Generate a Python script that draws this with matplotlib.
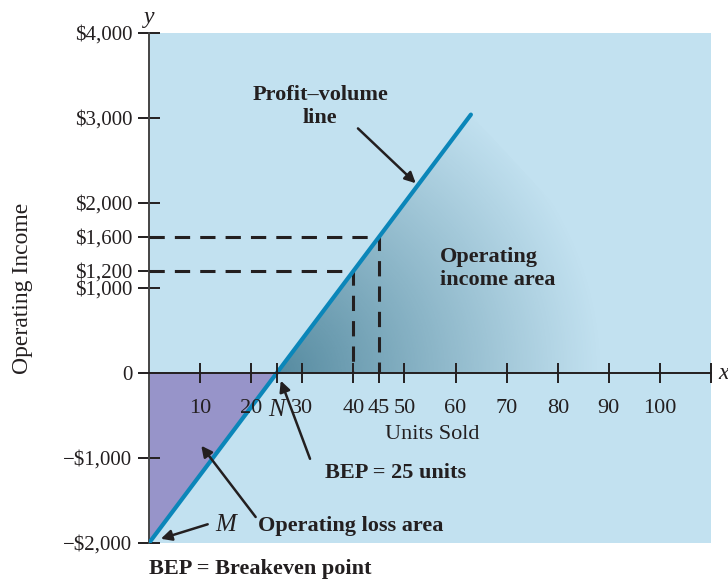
import numpy as np
import matplotlib
matplotlib.use("Agg")
import matplotlib.pyplot as plt
from matplotlib.patches import Polygon

# data
pv_units = [0, 63]              # profit-volume line, x
pv_income = [-2000, 3040]       # profit-volume line, y
bep_units = 25
marked_units = [40, 45]
marked_income = [1200, 1600]
fade_units = 110                # right corner of the shaded income area

x_ticks = [10, 20, 25, 30, 40, 45, 50, 60, 70, 80, 90, 100, 110]
x_labels = ["10", "20", "N", "30", "40", "45", "50", "60", "70", "80", "90", "100", ""]
y_ticks = [-2000, -1000, 0, 1000, 1200, 1600, 2000, 3000, 4000]
y_labels = ["\u2212$2,000", "\u2212$1,000", "0", "$1,000", "$1,200", "$1,600",
            "$2,000", "$3,000", "$4,000"]

BG = "#c2e1f0"
LOSS = "#9794c9"
LINE = "#0b86b9"
DARK = "#4a8197"
INK = "#231f20"

plt.rcParams['font.family'] = ['Liberation Serif', 'DejaVu Serif']

fig = plt.figure(figsize=(7.28, 5.83), dpi=100)
ax = fig.add_axes([0.2047, 0.0686, 0.772, 0.8748])
ax.set_xlim(0, 110)
ax.set_ylim(-2000, 4000)
ax.set_facecolor(BG)

# loss area
ax.add_patch(Polygon([(0, 0), (bep_units, 0), (pv_units[0], pv_income[0])],
                     closed=True, facecolor=LOSS, edgecolor="none", zorder=1))

# income area, fading out from the breakeven point
gx = np.linspace(0, 110, 600)
gy = np.linspace(-2000, 4000, 600)
GX, GY = np.meshgrid(gx, gy)
r = np.hypot((GX - bep_units) * 5.11, GY * 0.085)
alpha = np.clip(1 - r / 325.0, 0, 1) ** 1.05 * 0.9
rgb = matplotlib.colors.to_rgb(DARK)
img = np.zeros(GX.shape + (4,))
img[..., 0], img[..., 1], img[..., 2] = rgb
img[..., 3] = alpha
tri = Polygon([(bep_units, 0), (pv_units[1], pv_income[1]), (fade_units, 0)],
              closed=True, facecolor="none", edgecolor="none")
ax.add_patch(tri)
im = ax.imshow(img, extent=(0, 110, -2000, 4000), origin="lower",
               aspect="auto", zorder=2, interpolation="bilinear")
im.set_clip_path(tri)

# dashed guides
for u, v in zip(marked_units, marked_income):
    ax.plot([0, u, u], [v, v, 0], color=INK, lw=2.2, ls=(0, (5, 3.3)), zorder=3)

ax.plot(pv_units, pv_income, color=LINE, lw=3, zorder=4, solid_capstyle="round")

# axes styling
for s in ["top", "right"]:
    ax.spines[s].set_visible(False)
ax.spines["bottom"].set_position(("data", 0))
ax.spines["left"].set_color("#444444")
ax.spines["bottom"].set_color(INK)
ax.spines["left"].set_linewidth(1.4)
ax.spines["bottom"].set_linewidth(1.4)
ax.xaxis.set_zorder(5)
ax.spines["bottom"].set_zorder(5)

ax.set_xticks(x_ticks)
ax.set_xticklabels(x_labels)
ax.set_yticks(y_ticks)
ax.set_yticklabels(y_labels)
ax.tick_params(axis="x", direction="inout", length=15, width=1.4, pad=11,
               labelsize=16, colors=INK)
ax.tick_params(axis="y", direction="inout", length=16, width=1.4, pad=4,
               labelsize=15, colors=INK)
for t in ax.get_xticklabels():
    if t.get_text() == "N":
        t.set_fontstyle("italic")
        t.set_fontsize(18)

ax.set_ylabel("Operating Income", fontsize=17, color=INK, labelpad=22)
ax.text(55.5, -720, "Units Sold", fontsize=16, ha="center", va="center", color=INK)
ax.text(0, 4060, "y", fontsize=17, style="italic", ha="center", va="bottom", color=INK)
ax.text(111.4, 0, "x", fontsize=17, style="italic", ha="left", va="center",
        color=INK, clip_on=False)

arrow = dict(arrowstyle="-|>", color=INK, lw=1.8, mutation_scale=16)
bold = dict(fontsize=16, fontweight="bold", color=INK)

ax.text(33.5, 3140, "Profit\u2013volume\nline", ha="center", va="center",
        linespacing=1.2, **bold)
ax.annotate("", xy=(52.6, 2210), xytext=(40.5, 2900), arrowprops=arrow, zorder=6)

ax.text(57, 1230, "Operating\nincome area", ha="left", va="center",
        linespacing=1.2, **bold)

ax.text(34.5, -1180, "BEP = 25 units", ha="left", va="center", **bold)
ax.annotate("", xy=(25.6, -60), xytext=(31.7, -1040), arrowprops=arrow, zorder=6)

ax.text(21.3, -1800, "Operating loss area", ha="left", va="center", **bold)
ax.annotate("", xy=(9.9, -830), xytext=(21.2, -1720), arrowprops=arrow, zorder=6)

ax.text(15, -1790, "M", fontsize=18, style="italic", ha="center", va="center", color=INK)
ax.annotate("", xy=(1.8, -1960), xytext=(12.0, -1770), arrowprops=arrow, zorder=6)

ax.text(0, -2310, "BEP = Breakeven point", ha="left", va="center",
        clip_on=False, **bold)

fig.savefig("out.png", dpi=100)
